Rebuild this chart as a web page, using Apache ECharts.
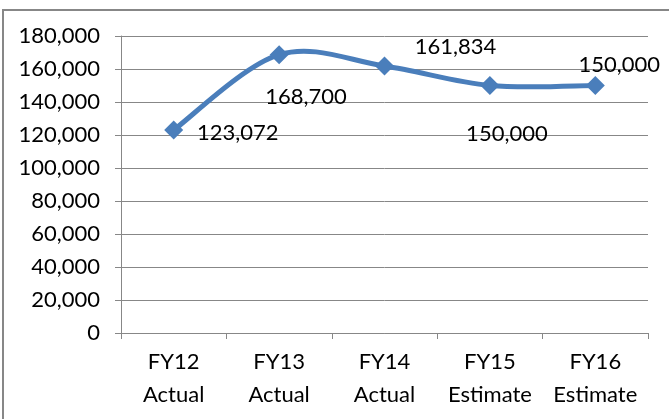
<!DOCTYPE html>
<html>
<head>
<meta charset="utf-8">
<script src="https://cdn.jsdelivr.net/npm/echarts@6/dist/echarts.min.js"></script>
<style>
  html, body { margin: 0; padding: 0; background: #fff; }
  #chart { width: 669px; height: 419px; }
</style>
</head>
<body>
<div id="chart"></div>
<script>
// Fiscal-year totals: actuals and estimates
const categories = ['FY12\nActual', 'FY13\nActual', 'FY14\nActual', 'FY15\nEstimate', 'FY16\nEstimate'];
const values = [123072, 168700, 161834, 150000, 150000];
const yTicks = { min: 0, max: 180000, interval: 20000 };

// Where each value label sits relative to its point (pixels)
const labelOffsets = [[64, 3], [27, 42], [71, -19], [17, 48], [24, -21]];

const fmt = v => Number(v).toLocaleString('en-US');
const FONT = 'Lato';
const FS = 22;
const GRAY = '#878787';
const BLUE = '#4A7EBB';

// Cardinal-spline segment between point i and i+1 (tangent = (next - prev) / 6)
function renderSegment(params, api) {
  const i = params.dataIndex;
  const n = values.length;
  if (i >= n - 1) return null;
  const pt = k => api.coord([k, values[Math.max(0, Math.min(n - 1, k))]]);
  const p0 = i > 0 ? pt(i - 1) : pt(i);
  const p1 = pt(i);
  const p2 = pt(i + 1);
  const p3 = i + 2 < n ? pt(i + 2) : pt(i + 1);
  const c1 = [p1[0] + (p2[0] - p0[0]) / 6, p1[1] + (p2[1] - p0[1]) / 6];
  const c2 = [p2[0] - (p3[0] - p1[0]) / 6, p2[1] - (p3[1] - p1[1]) / 6];
  return {
    type: 'bezierCurve',
    shape: { x1: p1[0], y1: p1[1], cpx1: c1[0], cpy1: c1[1], cpx2: c2[0], cpy2: c2[1], x2: p2[0], y2: p2[1] },
    style: { fill: null, stroke: BLUE, lineWidth: 5, lineCap: 'round' },
    silent: true
  };
}

const chart = echarts.init(document.getElementById('chart'), null, { renderer: 'canvas' });

chart.setOption({
  animation: false,
  backgroundColor: '#fff',
  textStyle: { fontFamily: FONT },
  graphic: [{
    type: 'rect',
    shape: { x: 3, y: 10, width: 720, height: 500 },
    style: { fill: 'none', stroke: GRAY, lineWidth: 2 },
    silent: true
  }],
  grid: { left: 121, right: 21, top: 36, bottom: 86, containLabel: false },
  xAxis: {
    type: 'category',
    data: categories,
    boundaryGap: true,
    axisLine: { lineStyle: { color: GRAY, width: 1 } },
    axisTick: { show: true, length: 6, alignWithLabel: false, lineStyle: { color: GRAY } },
    axisLabel: {
      color: '#000', fontFamily: FONT, fontSize: FS, lineHeight: 33,
      margin: 12, interval: 0
    },
    splitLine: { show: false }
  },
  yAxis: {
    type: 'value',
    min: yTicks.min, max: yTicks.max, interval: yTicks.interval,
    axisLine: { show: true, lineStyle: { color: GRAY, width: 1 } },
    axisTick: { show: true, length: 6, lineStyle: { color: GRAY } },
    axisLabel: {
      color: '#000', fontFamily: FONT, fontSize: FS, margin: 21,
      padding: [3, 0, 0, 0], formatter: fmt
    },
    splitLine: { show: true, lineStyle: { color: GRAY, width: 1 } }
  },
  series: [
    {
      type: 'custom',
      coordinateSystem: 'cartesian2d',
      data: values.map((v, i) => [i, v]),
      encode: { x: 0, y: 1 },
      renderItem: renderSegment,
      z: 2
    },
    {
      type: 'line',
      data: values.map((v, i) => ({
        value: v,
        label: { offset: labelOffsets[i] }
      })),
      symbol: 'diamond',
      symbolSize: 19,
      itemStyle: { color: BLUE },
      lineStyle: { opacity: 0 },
      z: 3,
      label: {
        show: true,
        position: 'inside',
        color: '#000',
        fontFamily: FONT,
        fontSize: FS,
        formatter: p => fmt(p.value)
      }
    }
  ]
});
</script>
</body>
</html>
